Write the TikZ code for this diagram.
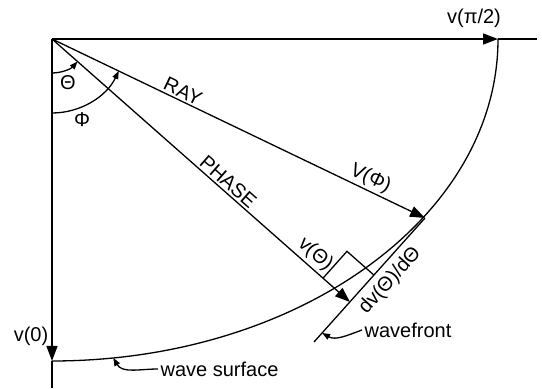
\documentclass[tikz,border=0pt]{standalone}
\usepackage{fontspec}
\setmainfont{Liberation Sans}
\usetikzlibrary{arrows.meta,calc}

\begin{document}
\begin{tikzpicture}[
x=1pt, y=1pt,
line width=1.3pt,
arrow/.style={-{Triangle[length=15pt, width=11pt]}},
tip/.style={-{Triangle[length=8pt, width=6pt]}},
lbl/.style={font=\fontsize{20}{23}\selectfont, inner sep=2pt}
]
\useasboundingbox (0,0) rectangle (542,389);

% axes and the two extreme velocities
\coordinate (O) at (52,350);
\coordinate (H) at (498,350);
\coordinate (Hend) at (537,350);
\coordinate (V) at (52,28);
\coordinate (Vend) at (52,1);
\draw[arrow] (O) -- (H);
\draw (H) -- (Hend);
\draw[arrow] (O) -- (V);
\draw (V) -- (Vend);
\node[lbl] (vpi) at (474,371) {v(π/2)};
\node[lbl] (vzero) at (31,53) {v(0)};

% wave surface
\draw (H) arc[start angle=0, end angle=-90, x radius=446, y radius=322];

% ray, phase and wavefront
\coordinate (R) at (425,171);
\coordinate (P) at (350,87);
\coordinate (W1) at (314,47);
\draw[arrow] (O) -- node[lbl, pos=0.34, above, sloped] (rayl) {RAY}
  node[lbl, pos=0.84, above, sloped] (vphil) {V(Φ)} (R);
\draw[arrow] (O) -- node[lbl, pos=0.57, above, sloped] (phasel) {PHASE}
  node[lbl, pos=0.855, above=1pt, sloped] (vthl) {v(Θ)} (P);
\draw (W1) -- node[lbl, pos=0.58, below=4pt, sloped] (dvl) {dv(Θ)/dΘ} (R);

% right angle
\coordinate (q1) at ($(P)!36pt!(O)$);
\coordinate (q2) at ($(P)!36pt!(R)$);
\draw (q1) -- ($(q1)+(q2)-(P)$) -- (q2);

% angles
\coordinate (thA) at (52,316);
\coordinate (phA) at (52,276);
\draw[tip] (thA) arc[start angle=270, end angle=318.6, radius=34];
\draw[tip] (phA) arc[start angle=270, end angle=334.4, radius=74];
\node[lbl] (thl) at (68,306) {Θ};
\node[lbl] (phl) at (82,269) {Φ};

% labels with pointers
\coordinate (wfpt) at ($(W1)!0.073!(R)$);
\coordinate (wspt) at ($(O)+(-82.1:446 and 322)$);
\node[lbl, anchor=west] (wfl) at (362,59) {wavefront};
\node[lbl, anchor=west] (wsl) at (158,20) {wave surface};
\draw[tip] (wfl.west) to[out=200, in=-30] (wfpt);
\draw[tip] (wsl.west) to[out=180, in=-60] (wspt);
\end{tikzpicture}
\end{document}
